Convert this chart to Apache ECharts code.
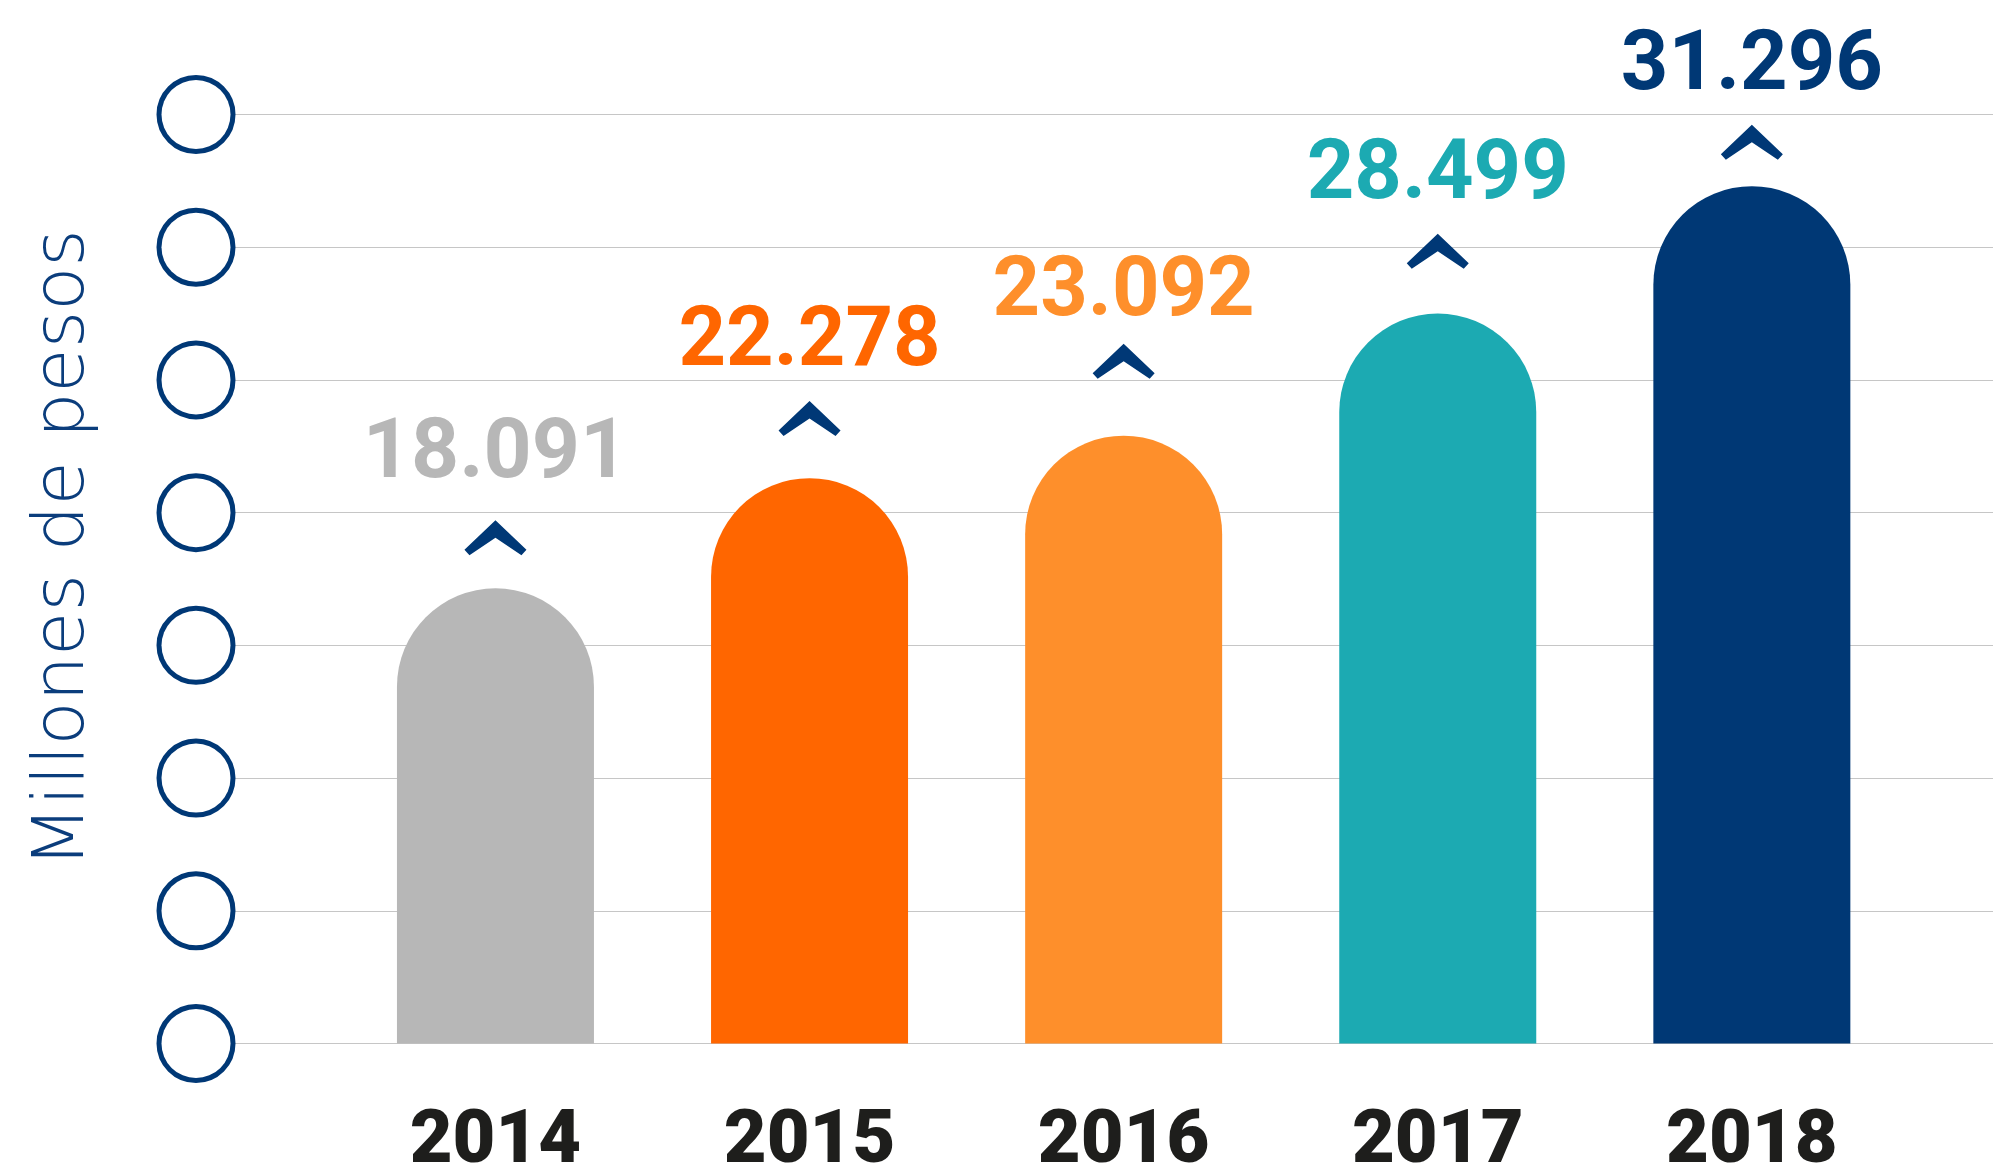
<!DOCTYPE html>
<html>
<head>
<meta charset="utf-8">
<script src="https://cdn.jsdelivr.net/npm/echarts@6/dist/echarts.min.js"></script>
<style>
html,body{margin:0;padding:0;background:#fff;}
#chart{width:1993px;height:1167px;}
</style>
</head>
<body>
<div id="chart"></div>
<script>
// ---- data ----
const years = ['2014', '2015', '2016', '2017', '2018'];
const values = [18091, 22278, 23092, 28499, 31296];          // printed amounts (millones de pesos)
const barHeights = [17150, 21300, 22900, 27500, 32300];       // drawn bar heights, in axis units
const chevronLevels = [19050, 23550, 25700, 29850, 33950];    // "^" marker levels, in axis units
const yTicks = [0, 5000, 10000, 15000, 20000, 25000, 30000, 35000];

// ---- styles ----
const barColors = ['#b7b7b7', '#ff6600', '#fe8f2b', '#1caab2', '#003875'];
const navy = '#003876';
const labelSizes = [84, 83, 83, 83, 83];
const labelGaps = [22, 15, 8, 15, 15];

function fmt(v) {
  const s = String(v);
  return s.slice(0, s.length - 3) + '.' + s.slice(s.length - 3);
}

const chart = echarts.init(document.getElementById('chart'));
const gTop = 114.5, gBottom = 123.5;
chart.setOption({
  backgroundColor: '#ffffff',
  animation: false,
  grid: [
    { left: 233, right: 0, top: gTop, bottom: gBottom, outerBoundsMode: 'none', containLabel: false },
    { left: 338.4, right: 84.1, top: gTop, bottom: gBottom, outerBoundsMode: 'none', containLabel: false }
  ],
  xAxis: [
    { type: 'value', gridIndex: 0, show: false, min: 0, max: 1 },
    {
      type: 'category', gridIndex: 1, data: years,
      axisLine: { show: false }, axisTick: { show: false },
      axisLabel: {
        margin: 63, color: '#1e1e1c', fontFamily: 'Roboto',
        fontWeight: 900, fontSize: 74
      }
    }
  ],
  yAxis: [
    {
      type: 'value', gridIndex: 0,
      min: yTicks[0], max: yTicks[yTicks.length - 1], interval: yTicks[1] - yTicks[0],
      name: 'Millones de pesos', nameLocation: 'middle', nameGap: 133,
      nameTextStyle: {
        fontFamily: 'DejaVu Sans', fontWeight: 200, fontSize: 72, color: '#0b3d7c',
        padding: [0, 0, 0, 61]
      },
      axisLine: { show: false }, axisTick: { show: false },
      splitLine: { show: true, lineStyle: { color: '#c6c6c6', width: 1 } },
      axisLabel: {
        margin: 2.5,
        formatter: function () { return '{c| }'; },
        rich: {
          c: {
            width: 69, height: 69, borderRadius: 34.5,
            borderColor: navy, borderWidth: 5, backgroundColor: '#ffffff'
          }
        }
      }
    },
    {
      type: 'value', gridIndex: 1, show: false,
      min: yTicks[0], max: yTicks[yTicks.length - 1], interval: yTicks[1] - yTicks[0],
      splitLine: { show: false }
    }
  ],
  series: [
    {
      type: 'bar', xAxisIndex: 1, yAxisIndex: 1,
      barWidth: 197,
      data: barHeights.map(function (h, i) {
        return { value: h, itemStyle: { color: barColors[i] } };
      }),
      itemStyle: { borderRadius: [98.5, 98.5, 0, 0] }
    },
    {
      type: 'scatter', xAxisIndex: 1, yAxisIndex: 1,
      symbol: 'path://M31,0 L62,29.5 L57,35 L31,17.5 L5,35 L0,29.5 Z',
      symbolSize: [62, 35],
      itemStyle: { color: navy, opacity: 1 },
      label: {
        show: true, position: 'top', distance: 15,
        fontFamily: 'Roboto', fontWeight: 'bold',
        formatter: function (p) { return fmt(values[p.dataIndex]); }
      },
      data: chevronLevels.map(function (lv, i) {
        return {
          value: lv,
          label: { color: barColors[i], fontSize: labelSizes[i], distance: labelGaps[i] }
        };
      })
    }
  ]
});
</script>
</body>
</html>
